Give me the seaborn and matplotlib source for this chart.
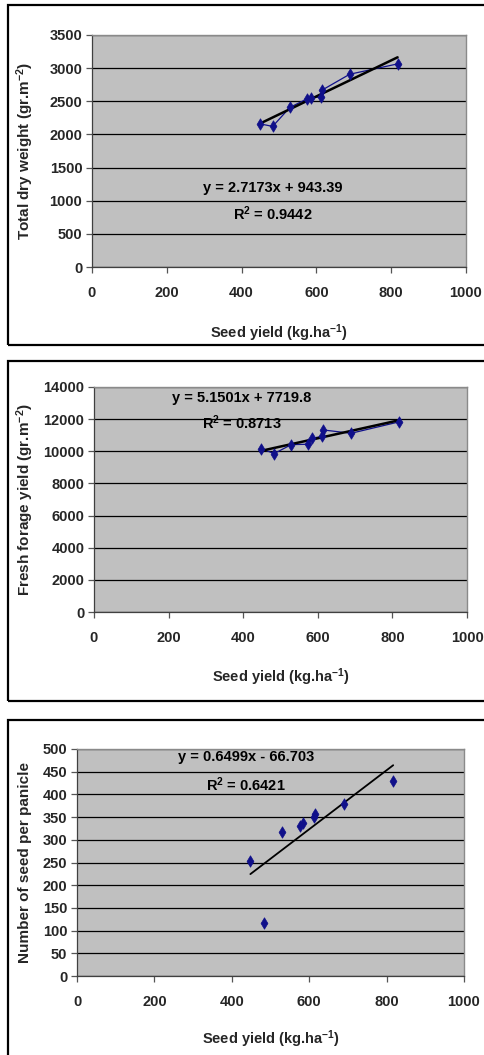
import matplotlib
matplotlib.use("Agg")
import matplotlib.pyplot as plt
from matplotlib.patches import Rectangle
import seaborn as sns
import pandas as pd
import numpy as np

# ---------------- data ----------------
seed_yield = [448, 483, 529, 575, 585, 612, 615, 689, 817]
total_dry_weight = [2161, 2121, 2407, 2537, 2557, 2562, 2668, 2908, 3064]
fresh_forage = [10168, 9857, 10416, 10437, 10810, 10934, 11327, 11120, 11824]
seeds_per_panicle = [253, 116, 317, 331, 337, 351, 357, 379, 429]

fit1 = (2.7173, 943.39)
fit2 = (5.1501, 7719.8)
fit3 = (0.6499, -66.703)

eq1 = ["y = 2.7173x + 943.39", "R$^{2}$ = 0.9442"]
eq2 = ["y = 5.1501x + 7719.8", "R$^{2}$ = 0.8713"]
eq3 = ["y = 0.6499x - 66.703", "R$^{2}$ = 0.6421"]

ylabels = ["Total dry weight (gr.m$^{-2}$)",
           "Fresh forage yield (gr.m$^{-2}$)",
           "Number of seed per panicle"]
xlabel = "Seed yield (kg.ha$^{-1}$)"

x_ticks = [0, 200, 400, 600, 800, 1000]
y_ticks1 = [0, 500, 1000, 1500, 2000, 2500, 3000, 3500]
y_ticks2 = [0, 2000, 4000, 6000, 8000, 10000, 12000, 14000]
y_ticks3 = [0, 50, 100, 150, 200, 250, 300, 350, 400, 450, 500]

# ---------------- style ----------------
sns.set_style("white")
plt.rcParams["font.family"] = ["Liberation Sans Narrow", "Liberation Sans", "DejaVu Sans"]
plt.rcParams["font.weight"] = "bold"
plt.rcParams["mathtext.fontset"] = "custom"
plt.rcParams["mathtext.default"] = "regular"

W, H = 484, 1055
fig = plt.figure(figsize=(W / 100, H / 100), dpi=100)
fig.patch.set_facecolor("white")

NAVY = "#10108a"

def px_axes(x0, y0, x1, y1):
    return fig.add_axes([x0 / W, 1 - y1 / H, (x1 - x0) / W, (y1 - y0) / H])

def frame(x0, y0, x1, y1):
    fig.patches.append(Rectangle((x0 / W, 1 - y1 / H), (x1 - x0) / W, (y1 - y0) / H,
                                 transform=fig.transFigure, fill=False,
                                 edgecolor="black", linewidth=1.6, clip_on=False))

panels = [
    dict(box=(92, 35, 466, 267), frame=(8, 5, 495, 345), y=total_dry_weight, fit=fit1,
         eq=eq1, yt=y_ticks1, line=True, eqpos=((483, 1192), (483, 800)),
         ylab_x=25, xlab_y=333),
    dict(box=(94, 387, 467, 612), frame=(8, 361, 495, 701), y=fresh_forage, fit=fit2,
         eq=eq2, yt=y_ticks2, line=True, eqpos=((397, 13334), (397, 11779)),
         ylab_x=25, xlab_y=677),
    dict(box=(77, 749, 464, 976), frame=(8, 720, 495, 1062), y=seeds_per_panicle, fit=fit3,
         eq=eq3, yt=y_ticks3, line=False, eqpos=((436, 481.7), (436, 422)),
         ylab_x=25, xlab_y=1039),
]

for i, p in enumerate(panels):
    frame(*p["frame"])
    ax = px_axes(*p["box"])
    ax.set_facecolor("#c0c0c0")
    df = pd.DataFrame({"x": seed_yield, "y": p["y"]})
    if p["line"]:
        sns.lineplot(data=df, x="x", y="y", ax=ax, color=NAVY, linewidth=0.9,
                     estimator=None, sort=True, zorder=3)
    # trend line from the stated equation, over the data range
    xr = np.array([min(seed_yield), max(seed_yield)])
    yr = p["fit"][0] * xr + p["fit"][1]
    sns.lineplot(x=xr, y=yr, ax=ax, color="black",
                 linewidth=1.8 if i < 2 else 1.3, zorder=4)
    sns.scatterplot(data=df, x="x", y="y", ax=ax, marker="d", s=34, color=NAVY,
                    edgecolor=NAVY, linewidth=0.5, zorder=5)

    ax.set_xlim(0, 1000)
    ax.set_ylim(p["yt"][0], p["yt"][-1])
    ax.set_xticks(x_ticks)
    ax.set_yticks(p["yt"])
    ax.set_xticklabels([str(t) for t in x_ticks], fontsize=10.5, fontweight="bold")
    ax.set_yticklabels([str(t) for t in p["yt"]], fontsize=10.5, fontweight="bold")
    ax.yaxis.grid(True, color="black", linewidth=0.9)
    ax.xaxis.grid(False)
    ax.set_axisbelow(True)
    ax.tick_params(axis="both", direction="out", length=4, width=0.9, color="#555555",
                   left=True, bottom=True)
    ax.tick_params(axis="x", pad=10)
    ax.tick_params(axis="y", pad=3)
    for s in ["top", "right"]:
        ax.spines[s].set_color("#8a8a8a")
        ax.spines[s].set_linewidth(1.0)
    for s in ["left", "bottom"]:
        ax.spines[s].set_color("#404040")
        ax.spines[s].set_linewidth(0.9)
    ax.set_xlabel("")
    ax.set_ylabel("")

    (ex, ey), (rx, ry) = p["eqpos"]
    ax.text(ex, ey, p["eq"][0], ha="center", va="center", fontsize=10.5,
            fontweight="bold", color="black", zorder=6)
    ax.text(rx, ry, p["eq"][1], ha="center", va="center", fontsize=10.5,
            fontweight="bold", color="black", zorder=6)

    x0, y0, x1, y1 = p["box"]
    # y label
    fig.text(p["ylab_x"] / W, 1 - ((y0 + y1) / 2) / H, ylabels[i], rotation=90,
             ha="center", va="center", fontsize=11, fontweight="bold",
             family=["Liberation Sans", "DejaVu Sans"])
    # x label
    fig.text(((x0 + x1) / 2) / W, 1 - p["xlab_y"] / H, xlabel, ha="center", va="center",
             fontsize=10.5, fontweight="bold")

fig.savefig("out.png", dpi=100, facecolor="white")
